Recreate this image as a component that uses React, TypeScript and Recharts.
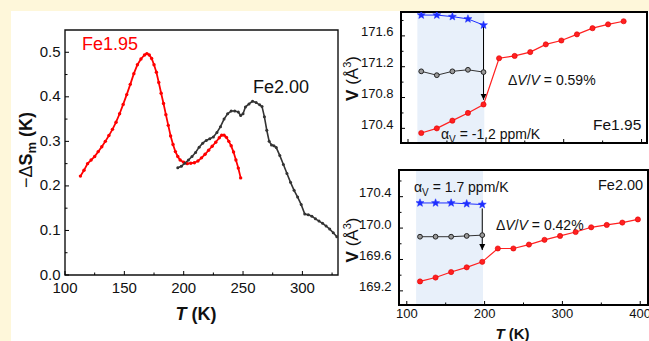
import React from 'react';
import { ComposedChart, Line, XAxis, YAxis, ReferenceArea, ReferenceLine } from 'recharts';

const FONT = '"Liberation Sans", Arial, Helvetica, sans-serif';

// ---------- Left panel: -ΔSm (K) vs T (K) ----------
const tFe195 = [113, 116, 119, 122, 125, 128, 131, 134, 137, 140, 143, 146, 149, 152, 155, 158, 161, 164, 167, 169, 171, 173, 175, 177, 179, 181, 183, 185, 187, 189, 191, 193, 195, 197, 200, 203, 206, 209, 212, 215, 218, 221, 224, 227, 230, 232, 234, 236, 238, 240, 242, 244, 246, 248];
const dsFe195 = [0.222, 0.235, 0.25, 0.258, 0.266, 0.277, 0.288, 0.3, 0.313, 0.327, 0.343, 0.362, 0.383, 0.405, 0.428, 0.452, 0.472, 0.485, 0.494, 0.497, 0.494, 0.486, 0.472, 0.455, 0.432, 0.408, 0.385, 0.36, 0.336, 0.312, 0.293, 0.277, 0.266, 0.258, 0.253, 0.25, 0.251, 0.252, 0.256, 0.263, 0.271, 0.28, 0.289, 0.298, 0.308, 0.314, 0.314, 0.309, 0.3, 0.29, 0.276, 0.258, 0.24, 0.218];
const tFe200 = [195, 198, 201, 204, 207, 210, 213, 216, 219, 222, 225, 228, 231, 234, 237, 240, 243, 246, 248, 250, 252, 255, 258, 261, 264, 266, 268, 270, 272, 274, 276, 278, 281, 284, 287, 290, 293, 296, 299, 302, 305, 308, 311, 314, 317, 320, 323, 326, 329];
const dsFe200 = [0.241, 0.244, 0.251, 0.258, 0.266, 0.275, 0.287, 0.296, 0.302, 0.306, 0.31, 0.32, 0.333, 0.35, 0.362, 0.368, 0.368, 0.366, 0.358, 0.362, 0.377, 0.384, 0.39, 0.387, 0.382, 0.378, 0.355, 0.325, 0.3, 0.292, 0.29, 0.286, 0.268, 0.248, 0.228, 0.208, 0.19, 0.175, 0.158, 0.137, 0.135, 0.132, 0.126, 0.121, 0.116, 0.11, 0.103, 0.095, 0.086];
const leftXMajor = [100, 150, 200, 250, 300];
const leftXMinor = [125, 175, 225, 275, 325];
const leftYMajor = [0, 0.1, 0.2, 0.3, 0.4, 0.5];
const leftYMinor = [0.05, 0.15, 0.25, 0.35, 0.45];

// ---------- Right panels: V (Å^3) vs T (K) ----------
const tColdV = [117, 137, 157, 177, 197];
const tTopRed = [117, 137, 157, 177, 197, 217, 237, 257, 277, 297, 317, 337, 357, 377];
const vTopRed = [170.34, 170.4, 170.5, 170.6, 170.71, 171.31, 171.34, 171.39, 171.49, 171.54, 171.62, 171.7, 171.75, 171.79];
const vTopBlue = [171.87, 171.87, 171.85, 171.82, 171.74];
const vTopBlack = [171.14, 171.09, 171.14, 171.16, 171.13];
const tBotRed = [117, 137, 157, 177, 197, 217, 237, 257, 277, 297, 317, 337, 357, 377, 397];
const vBotRed = [169.32, 169.37, 169.44, 169.5, 169.57, 169.74, 169.74, 169.79, 169.85, 169.9, 169.95, 170.01, 170.04, 170.07, 170.11];
const vBotBlue = [170.32, 170.32, 170.32, 170.31, 170.3];
const vBotBlack = [169.89, 169.89, 169.89, 169.9, 169.91];
const topArrow = [171.72, 170.77];
const botArrow = [170.25, 169.72];
const shadeT = [112, 198];
const rightXMajor = [100, 200, 300, 400];
const rightXMinor = [150, 250, 350];
const topYMajor = [170.4, 170.8, 171.2, 171.6];
const topYMinor = [170.6, 171.0, 171.4, 171.8];
const botYMajor = [169.2, 169.6, 170.0, 170.4];
const botYMinor = [169.4, 169.8, 170.2, 170.6];

const zip = (xs: number[], ys: number[]) => xs.map((t, i) => ({ t, v: ys[i] }));

type TickOpts = {
  side: 'left' | 'bottom';
  majors: number[];
  labels: boolean;
  digits: number;
  fontSize: number;
  majorLen: number;
  minorLen: number;
  gap: number;
  dy?: number;
  sw: number;
};

function makeTick(o: TickOpts) {
  return (props: any) => {
    const { x, y, payload, index } = props;
    const v = payload.value as number;
    const isMajor = o.majors.some((m) => Math.abs(m - v) < 1e-6);
    const len = isMajor ? o.majorLen : o.minorLen;
    const label = o.digits > 0 ? v.toFixed(o.digits) : String(v);
    if (o.side === 'left') {
      return (
        <g key={`yt${index}`}>
          <line x1={x} x2={x + len} y1={y} y2={y} stroke="#000" strokeWidth={o.sw} />
          {isMajor && o.labels && (
            <text x={x - o.gap} y={y + (o.dy || 0)} textAnchor="end" dominantBaseline="central" fontSize={o.fontSize} fontFamily={FONT} fill="#111">
              {label}
            </text>
          )}
        </g>
      );
    }
    return (
      <g key={`xt${index}`}>
        <line x1={x} x2={x} y1={y} y2={y - len} stroke="#000" strokeWidth={o.sw} />
        {isMajor && o.labels && (
          <text x={x} y={y + o.gap} textAnchor="middle" dominantBaseline="central" fontSize={o.fontSize} fontFamily={FONT} fill="#111">
            {label}
          </text>
        )}
      </g>
    );
  };
}

const starPoints = (cx: number, cy: number, R: number, r: number) => {
  const pts: string[] = [];
  for (let i = 0; i < 10; i++) {
    const ang = -Math.PI / 2 + (i * Math.PI) / 5;
    const rad = i % 2 === 0 ? R : r;
    pts.push(`${cx + rad * Math.cos(ang)},${cy + rad * Math.sin(ang)}`);
  }
  return pts.join(' ');
};

const StarDot = (p: any) => <polygon key={`s${p.index}`} points={starPoints(p.cx, p.cy, 4.2, 1.8)} fill="#1f2fff" stroke="#1f2fff" strokeWidth={0.5} />;
const RedDot = (p: any) => <circle key={`r${p.index}`} cx={p.cx} cy={p.cy} r={2.6} fill="#ff2020" stroke="#e00000" strokeWidth={0.6} />;
const BlackDot = (p: any) => <circle key={`b${p.index}`} cx={p.cx} cy={p.cy} r={2.4} fill="#9a9a9a" stroke="#222" strokeWidth={1} />;
const SmallRed = (p: any) => <circle key={`sr${p.index}`} cx={p.cx} cy={p.cy} r={1.7} fill="#ff0000" />;
const SmallBlack = (p: any) => <circle key={`sb${p.index}`} cx={p.cx} cy={p.cy} r={1.5} fill="#333" />;

function LeftPanel() {
  const xd: [number, number] = [100, 330];
  const yd: [number, number] = [0, 0.55];
  return (
    <ComposedChart width={345} height={341} margin={{ top: 30, left: 35, right: 7, bottom: 36 }}>
      <XAxis type="number" dataKey="t" domain={xd} ticks={[...leftXMajor, ...leftXMinor].sort((a, b) => a - b)} interval={0} allowDataOverflow height={30} tickSize={0} tickMargin={0} axisLine={false} tickLine={false}
        tick={makeTick({ side: 'bottom', majors: leftXMajor, labels: true, digits: 0, fontSize: 15, majorLen: 4, minorLen: 2.5, gap: 12.5, sw: 1 })} />
      <YAxis type="number" dataKey="v" domain={yd} ticks={[...leftYMajor, ...leftYMinor].sort((a, b) => a - b)} interval={0} allowDataOverflow width={30} tickSize={0} tickMargin={0} axisLine={false} tickLine={false}
        tick={makeTick({ side: 'left', majors: leftYMajor, labels: true, digits: 1, fontSize: 15, majorLen: 4, minorLen: 2.5, gap: 4.5, dy: -1, sw: 1 })} />
      <Line data={zip(tFe195, dsFe195)} dataKey="v" stroke="#ff0000" strokeWidth={1.8} dot={SmallRed} isAnimationActive={false} />
      <Line data={zip(tFe200, dsFe200)} dataKey="v" stroke="#333" strokeWidth={1.6} dot={SmallBlack} isAnimationActive={false} />
      <ReferenceArea x1={xd[0]} x2={xd[1]} y1={yd[0]} y2={yd[1]} fill="none" stroke="#111" strokeWidth={1.4} ifOverflow="visible" />
    </ComposedChart>
  );
}

function RightPanel(props: {
  width: number; height: number; margin: any; xd: [number, number]; yd: [number, number]; xAxisH: number;
  red: { t: number; v: number }[]; blue: { t: number; v: number }[]; black: { t: number; v: number }[];
  yMajor: number[]; yMinor: number[]; xLabels: boolean; arrow: number[];
}) {
  const { xd, yd } = props;
  return (
    <ComposedChart width={props.width} height={props.height} margin={props.margin}>
      <XAxis type="number" dataKey="t" domain={xd} ticks={[...rightXMajor, ...rightXMinor].sort((a, b) => a - b)} interval={0} allowDataOverflow height={props.xAxisH} tickSize={0} tickMargin={0} axisLine={false} tickLine={false}
        tick={makeTick({ side: 'bottom', majors: rightXMajor, labels: props.xLabels, digits: 0, fontSize: 13, majorLen: 4, minorLen: 2.5, gap: 8.5, sw: 1 })} />
      <YAxis type="number" dataKey="v" domain={yd} ticks={[...props.yMajor, ...props.yMinor].sort((a, b) => a - b)} interval={0} allowDataOverflow width={30} tickSize={0} tickMargin={0} axisLine={false} tickLine={false}
        tick={makeTick({ side: 'left', majors: props.yMajor, labels: true, digits: 1, fontSize: 13, majorLen: 4, minorLen: 2.5, gap: 7.5, dy: -4, sw: 1 })} />
      <ReferenceArea x1={shadeT[0]} x2={shadeT[1]} fill="#e8f0fa" fillOpacity={1} stroke="none" />
      <Line data={props.blue} dataKey="v" stroke="#1f2fff" strokeWidth={1} dot={StarDot} isAnimationActive={false} />
      <Line data={props.black} dataKey="v" stroke="#333" strokeWidth={1} dot={BlackDot} isAnimationActive={false} />
      <Line data={props.red} dataKey="v" stroke="#ff2020" strokeWidth={1.2} dot={RedDot} isAnimationActive={false} />
      <ReferenceLine segment={[{ x: tColdV[4], y: props.arrow[0] }, { x: tColdV[4], y: props.arrow[1] }]} stroke="#000" strokeWidth={1} markerEnd="url(#arrowHead)" />
      <ReferenceArea x1={xd[0]} x2={xd[1]} y1={yd[0]} y2={yd[1]} fill="none" stroke="#000" strokeWidth={2} ifOverflow="visible" />
    </ComposedChart>
  );
}

export default function App() {
  return (
    <div style={{ position: 'absolute', left: 0, top: 0, width: 649, height: 341, background: '#fef7da', overflow: 'hidden', fontFamily: FONT }}>
      <div style={{ position: 'absolute', left: 11, top: 11, width: 638, height: 330, background: '#fff' }} />
      <div style={{ position: 'absolute', left: 0, top: 0 }}>
        <LeftPanel />
      </div>
      <div style={{ position: 'absolute', left: 340, top: 0 }}>
        <RightPanel width={309} height={160} margin={{ top: 12, left: 31, right: 2, bottom: 2 }} xAxisH={15} xd={[91, 407]} yd={[170.21, 171.91]}
          red={zip(tTopRed, vTopRed)} blue={zip(tColdV, vTopBlue)} black={zip(tColdV, vTopBlack)} yMajor={topYMajor} yMinor={topYMinor} xLabels={false} arrow={topArrow} />
      </div>
      <div style={{ position: 'absolute', left: 340, top: 160 }}>
        <RightPanel width={309} height={181} margin={{ top: 10, left: 29, right: 1, bottom: 6 }} xAxisH={30} xd={[90, 410]} yd={[169.02, 170.74]}
          red={zip(tBotRed, vBotRed)} blue={zip(tColdV, vBotBlue)} black={zip(tColdV, vBotBlack)} yMajor={botYMajor} yMinor={botYMinor} xLabels={true} arrow={botArrow} />
      </div>
      <svg width={649} height={341} style={{ position: 'absolute', left: 0, top: 0, pointerEvents: 'none' }} fontFamily={FONT}>
        <defs>
          <marker id="arrowHead" viewBox="0 0 10 10" refX="10" refY="5" markerWidth="6" markerHeight="7" markerUnits="userSpaceOnUse" orient="auto">
            <path d="M0,0 L10,5 L0,10 z" fill="#000" />
          </marker>
        </defs>
        {/* left panel texts */}
        <text x={82} y={50} fontSize={18} fill="#ff0000">Fe1.95</text>
        <text x={253} y={92.5} fontSize={18} fill="#111">Fe2.00</text>
        <text x={196} y={320} fontSize={18} fontWeight="bold" textAnchor="middle" fill="#111">
          <tspan fontStyle="italic">T</tspan> (K)
        </text>
        <text transform="translate(31.5,150) rotate(-90)" fontSize={18} textAnchor="middle" fill="#111">
          <tspan>−Δ</tspan><tspan fontWeight="bold">S</tspan><tspan fontWeight="bold" fontSize={13} dy={4}>m</tspan><tspan fontWeight="bold" dy={-4}> (K)</tspan>
        </text>
        {/* top right texts */}
        <text transform="translate(358,78.5) rotate(-90)" fontSize={17} textAnchor="middle" fill="#111">
          <tspan fontWeight="bold">V</tspan><tspan> (Å</tspan><tspan fontSize={11} dy={-7}>3</tspan><tspan dy={7}>)</tspan>
        </text>
        <text x={508} y={85} fontSize={14} fill="#111">Δ<tspan fontStyle="italic">V</tspan>/<tspan fontStyle="italic">V</tspan> = 0.59%</text>
        <text x={593} y={130} fontSize={15.5} fill="#111">Fe1.95</text>
        <text x={441} y={139} fontSize={14} fill="#111">α<tspan fontSize={10} dy={4}>V</tspan><tspan dy={-4}> = -1.2 ppm/K</tspan></text>
        {/* bottom right texts */}
        <text transform="translate(358,240) rotate(-90)" fontSize={17} textAnchor="middle" fill="#111">
          <tspan fontWeight="bold">V</tspan><tspan> (Å</tspan><tspan fontSize={11} dy={-7}>3</tspan><tspan dy={7}>)</tspan>
        </text>
        <text x={414} y={191.5} fontSize={14} fill="#111">α<tspan fontSize={10} dy={4}>V</tspan><tspan dy={-4}> = 1.7 ppm/K</tspan></text>
        <text x={598} y={189.5} fontSize={14.5} fill="#111">Fe2.00</text>
        <text x={496} y={230} fontSize={14} fill="#111">Δ<tspan fontStyle="italic">V</tspan>/<tspan fontStyle="italic">V</tspan> = 0.42%</text>
        <text x={512.5} y={339} fontSize={15} fontWeight="bold" textAnchor="middle" fill="#111">
          <tspan fontStyle="italic">T</tspan> (K)
        </text>
      </svg>
    </div>
  );
}
